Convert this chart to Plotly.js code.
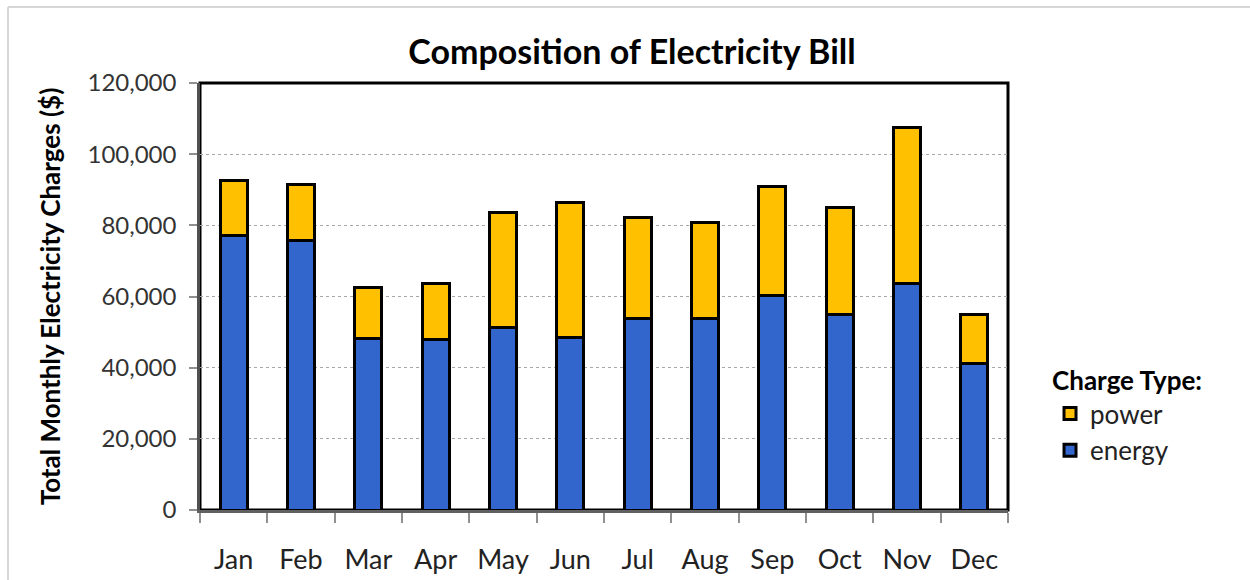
<!DOCTYPE html>
<html>
<head>
<meta charset="utf-8">
<script src="https://cdn.plot.ly/plotly-3.0.1.min.js"></script>
<style>
html,body{margin:0;padding:0;background:#fff;}
#chart{width:1250px;height:580px;}
</style>
</head>
<body>
<div id="chart"></div>
<script>
const months = ['Jan','Feb','Mar','Apr','May','Jun','Jul','Aug','Sep','Oct','Nov','Dec'];
const energy = [77100, 75600, 48200, 48000, 51200, 48400, 53900, 53900, 60300, 54900, 63700, 41200];
const power  = [15400, 15800, 14200, 15700, 32300, 37900, 28300, 26900, 30600, 30000, 43800, 13700];
const yTicks = [0, 20000, 40000, 60000, 80000, 100000, 120000];

const FONT = 'Lato, "Open Sans", sans-serif';

const traces = [
  {type:'bar', name:'energy', x:months, y:energy, legendgroup:'e',
   marker:{color:'#3366CC', line:{color:'#000', width:3}}, hoverinfo:'x+y+name'},
  {type:'bar', name:'power', x:months, y:power, legendgroup:'p',
   marker:{color:'#FFC000', line:{color:'#000', width:3}}, hoverinfo:'x+y+name'}
];

const layout = {
  width:1250, height:580,
  margin:{l:200, r:242, t:83, b:70},
  paper_bgcolor:'#fff', plot_bgcolor:'#fff',
  barmode:'stack', bargap:0.6,
  font:{family:FONT, color:'#222'},
  title:{text:'<b>Composition of Electricity Bill</b>', font:{family:FONT, size:34, color:'#000'},
         xref:'container', x:632/1250, xanchor:'center', yref:'container', y:1-52/580, yanchor:'middle'},
  xaxis:{
    showgrid:false, zeroline:false,
    showline:true, linecolor:'#606060', linewidth:2.5,
    ticks:'outside', tickson:'boundaries', ticklen:10, tickcolor:'#909090', tickwidth:1.5,
    tickfont:{family:FONT, size:27, color:'#222'}, ticklabelstandoff:24
  },
  yaxis:{
    range:[0,120000], tickvals:yTicks, tickformat:',d',
    showgrid:true, gridcolor:'#a8a8a8', griddash:'dot', gridwidth:1,
    zeroline:false, showline:true, linecolor:'#505050', linewidth:2.5,
    ticks:'outside', ticklen:8, tickcolor:'#909090', tickwidth:1.5,
    tickfont:{family:FONT, size:24, color:'#333'}, ticklabelstandoff:8,
    automargin:true,
    title:{text:'<b>Total Monthly Electricity Charges ($)</b>', standoff:20,
           font:{family:FONT, size:26, color:'#000'}}
  },
  legend:{
    x:1.052, xanchor:'left', y:0.36, yanchor:'top',
    traceorder:'reversed', tracegroupgap:6,
    font:{family:FONT, size:26, color:'#222'},
    title:{text:'<b>Charge Type:</b>', side:'top', font:{family:FONT, size:26, color:'#000'}},
    bgcolor:'rgba(0,0,0,0)'
  },
  shapes:[
    {type:'rect', xref:'paper', yref:'paper', x0:0, x1:1, y0:0, y1:1, layer:'below',
     line:{color:'#000', width:3}},
    {type:'line', xref:'paper', yref:'paper', x0:(8-200)/808, x1:(1260-200)/808, y0:(510-7)/427, y1:(510-7)/427,
     line:{color:'#c8c8c8', width:1.5}},
    {type:'line', xref:'paper', yref:'paper', x0:(8-200)/808, x1:(8-200)/808, y0:(510-7)/427, y1:-0.3,
     line:{color:'#c8c8c8', width:1.5}}
  ]
};

Plotly.newPlot('chart', traces, layout, {displayModeBar:false, responsive:false});
</script>
</body>
</html>
